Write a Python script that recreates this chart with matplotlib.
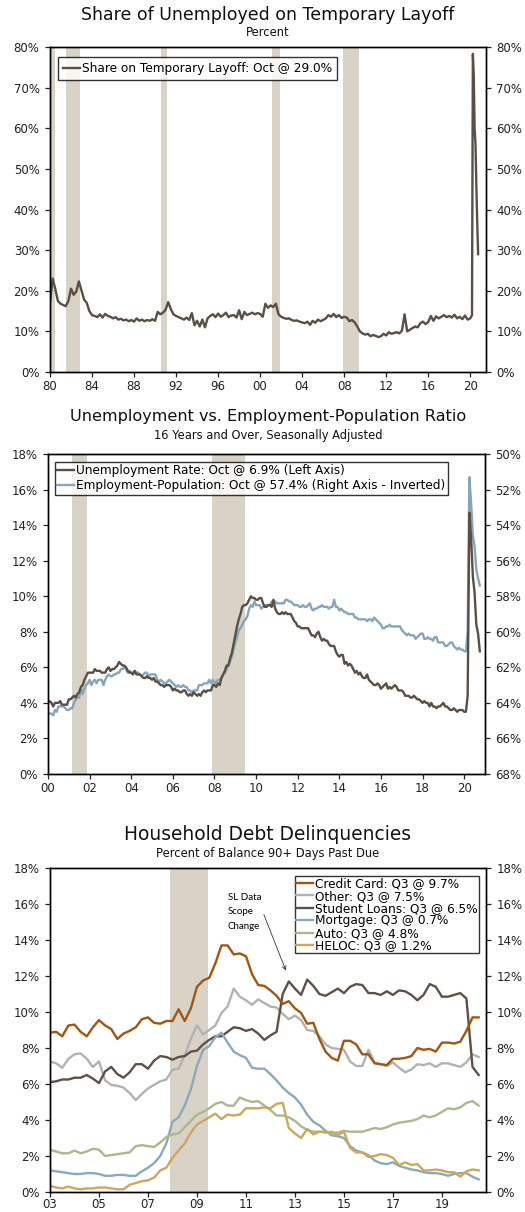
import numpy as np
import matplotlib
matplotlib.use("Agg")
import matplotlib.pyplot as plt
from matplotlib.ticker import FuncFormatter, MultipleLocator

plt.rcParams['font.family'] = ['DejaVu Sans']

# ---------------- data ----------------
# Share of unemployed on temporary layoff, quarterly 1980Q1-2019Q4 (%)
layoff_share = [
    17.0, 23.0, 20.5, 17.5,  16.8, 16.5, 16.2, 17.5,  20.5, 19.0, 19.8, 22.3,
    20.0, 17.8, 17.0, 15.0,  14.0, 13.8, 13.5, 14.2,  13.4, 14.3, 13.8, 13.6,
    13.2, 13.5, 12.9, 13.1,  12.7, 12.9, 12.5, 12.8,  12.4, 13.2, 12.6, 12.9,
    12.5, 12.8, 12.6, 13.0,  12.6, 14.8, 14.2, 14.6,  15.3, 17.2, 15.5, 14.2,
    13.8, 13.5, 13.2, 12.9,  13.4, 12.8, 14.5, 11.5,  12.6, 11.2, 12.9, 11.0,
    13.2, 13.8, 14.2, 13.5,  14.4, 13.6, 14.0, 14.6,  13.5, 13.9, 14.0, 13.4,
    15.2, 13.0, 14.8, 14.0,  14.3, 14.6, 14.2, 14.5,  14.3, 13.6, 16.8, 15.8,
    16.4, 16.0, 16.8, 14.2,  13.6, 13.3, 13.1, 13.2,  12.8, 12.6, 12.7, 12.4,
    12.2, 12.0, 12.4, 11.6,  12.6, 12.1, 12.9, 12.5,  12.8, 13.2, 14.0, 13.6,
    14.3, 13.5, 14.0, 13.3,  13.6, 13.4, 12.5, 12.8,  12.2, 11.2, 10.0, 9.5,
    9.2, 9.4, 8.8, 9.1,      8.9, 8.6, 8.8, 9.4,      9.0, 9.8, 9.4, 9.6,
    9.8, 9.5, 10.2, 14.2,    10.0, 10.4, 10.8, 11.2,  11.0, 12.0, 12.4, 11.8,
    12.3, 13.8, 12.6, 13.7,  13.2, 13.6, 14.0, 13.5,  13.8, 13.4, 14.1, 13.2,
    13.6, 13.0, 13.9, 12.9,
]
# monthly Jan-Oct 2020
layoff_2020 = [13.2, 13.6, 14.0, 78.3, 73.0, 59.8, 56.2, 45.7, 36.7, 29.0]

# Unemployment rate, monthly Jan 2000 - Oct 2020 (%)
unemployment_rate = [
    4.0, 4.1, 4.0, 3.8, 4.0, 4.0, 4.0, 4.1, 3.9, 3.9, 3.9, 3.9,
    4.2, 4.2, 4.3, 4.4, 4.3, 4.5, 4.6, 4.9, 5.0, 5.3, 5.5, 5.7,
    5.7, 5.7, 5.7, 5.9, 5.8, 5.8, 5.8, 5.7, 5.7, 5.7, 5.9, 6.0,
    5.8, 5.9, 5.9, 6.0, 6.1, 6.3, 6.2, 6.1, 6.1, 6.0, 5.8, 5.7,
    5.7, 5.6, 5.8, 5.6, 5.6, 5.6, 5.5, 5.4, 5.4, 5.5, 5.4, 5.4,
    5.3, 5.4, 5.2, 5.2, 5.1, 5.0, 5.0, 4.9, 5.0, 5.0, 5.0, 4.9,
    4.7, 4.8, 4.7, 4.7, 4.6, 4.6, 4.7, 4.7, 4.5, 4.4, 4.5, 4.4,
    4.6, 4.5, 4.4, 4.5, 4.4, 4.6, 4.7, 4.6, 4.7, 4.7, 4.7, 5.0,
    5.0, 4.9, 5.1, 5.0, 5.4, 5.6, 5.8, 6.1, 6.1, 6.5, 6.8, 7.3,
    7.8, 8.3, 8.7, 9.0, 9.4, 9.5, 9.5, 9.6, 9.8, 10.0, 9.9, 9.9,
    9.8, 9.8, 9.9, 9.9, 9.6, 9.4, 9.4, 9.5, 9.5, 9.4, 9.8, 9.3,
    9.1, 9.0, 9.0, 9.1, 9.0, 9.1, 9.0, 9.0, 9.0, 8.8, 8.6, 8.5,
    8.3, 8.3, 8.2, 8.2, 8.2, 8.2, 8.2, 8.0, 7.8, 7.8, 7.7, 7.9,
    8.0, 7.7, 7.5, 7.6, 7.5, 7.5, 7.3, 7.2, 7.2, 7.2, 6.9, 6.7,
    6.6, 6.7, 6.7, 6.2, 6.3, 6.1, 6.2, 6.1, 5.9, 5.7, 5.8, 5.6,
    5.7, 5.5, 5.4, 5.4, 5.6, 5.3, 5.2, 5.1, 5.0, 5.0, 5.1, 5.0,
    4.8, 4.9, 5.0, 5.1, 4.8, 4.9, 4.8, 4.9, 5.0, 4.9, 4.7, 4.7,
    4.7, 4.6, 4.4, 4.4, 4.4, 4.3, 4.3, 4.4, 4.3, 4.2, 4.2, 4.1,
    4.0, 4.1, 4.0, 4.0, 3.8, 4.0, 3.8, 3.8, 3.7, 3.8, 3.8, 3.9,
    4.0, 3.8, 3.8, 3.7, 3.6, 3.6, 3.7, 3.6, 3.5, 3.6, 3.6, 3.6,
    3.5, 3.5, 4.4, 14.7, 13.3, 11.1, 10.2, 8.4, 7.9, 6.9,
]

# Employment-population ratio, monthly Jan 2000 - Oct 2020 (%)
emp_pop_ratio = [
    64.6, 64.6, 64.6, 64.7, 64.4, 64.5, 64.2, 64.2, 64.2, 64.2, 64.3, 64.4,
    64.4, 64.3, 64.3, 64.0, 63.8, 63.7, 63.7, 63.2, 63.5, 63.2, 63.0, 62.9,
    62.7, 63.0, 62.8, 62.7, 62.9, 62.7, 62.7, 62.7, 63.0, 62.7, 62.5, 62.4,
    62.5, 62.5, 62.4, 62.4, 62.3, 62.3, 62.1, 62.1, 62.0, 62.1, 62.3, 62.2,
    62.3, 62.3, 62.2, 62.3, 62.3, 62.4, 62.5, 62.4, 62.3, 62.3, 62.5, 62.4,
    62.4, 62.4, 62.4, 62.7, 62.8, 62.7, 62.8, 62.9, 62.9, 62.8, 62.7, 62.8,
    62.9, 63.0, 63.1, 63.0, 63.1, 63.1, 63.0, 63.1, 63.1, 63.3, 63.3, 63.4,
    63.3, 63.3, 63.3, 63.0, 63.0, 63.0, 62.9, 62.9, 62.9, 62.7, 62.9, 62.7,
    62.9, 62.8, 62.7, 62.7, 62.6, 62.4, 62.3, 62.1, 61.9, 61.7, 61.4, 61.0,
    60.6, 60.3, 59.9, 59.8, 59.6, 59.4, 59.3, 59.1, 58.7, 58.5, 58.6, 58.3,
    58.5, 58.5, 58.5, 58.7, 58.6, 58.5, 58.5, 58.5, 58.5, 58.3, 58.3, 58.3,
    58.4, 58.4, 58.4, 58.4, 58.4, 58.2, 58.2, 58.3, 58.3, 58.4, 58.5, 58.5,
    58.5, 58.6, 58.6, 58.5, 58.6, 58.6, 58.5, 58.4, 58.7, 58.8, 58.7, 58.7,
    58.6, 58.6, 58.5, 58.6, 58.6, 58.6, 58.7, 58.6, 58.6, 58.2, 58.6, 58.6,
    58.8, 58.7, 58.8, 58.9, 58.9, 59.0, 59.0, 59.0, 59.0, 59.2, 59.2, 59.3,
    59.3, 59.3, 59.3, 59.3, 59.4, 59.3, 59.3, 59.4, 59.2, 59.3, 59.4, 59.5,
    59.6, 59.8, 59.8, 59.7, 59.7, 59.6, 59.7, 59.7, 59.7, 59.7, 59.7, 59.7,
    59.9, 60.0, 60.1, 60.2, 60.1, 60.2, 60.2, 60.2, 60.4, 60.3, 60.2, 60.1,
    60.1, 60.4, 60.4, 60.3, 60.4, 60.4, 60.5, 60.3, 60.3, 60.6, 60.6, 60.6,
    60.6, 60.8, 60.8, 60.7, 60.6, 60.6, 60.8, 60.9, 61.0, 60.9, 61.0, 61.0,
    61.1, 61.1, 60.0, 51.3, 52.8, 54.6, 55.2, 56.5, 57.0, 57.4,
]

# Household debt 90+ days delinquent, quarterly 2003Q1 - 2020Q3 (%)
credit_card = [
    8.85, 8.9, 8.65, 9.25, 9.3, 8.9, 8.65, 9.15, 9.55, 9.25, 9.05, 8.5,
    8.8, 8.95, 9.15, 9.6, 9.7, 9.4, 9.35, 9.5, 9.5, 10.15, 9.5, 10.2,
    11.4, 11.75, 11.9, 12.7, 13.7, 13.7, 13.2, 13.25, 13.1, 12.1, 11.5, 11.45,
    11.2, 10.9, 10.45, 10.6, 10.2, 9.95, 9.35, 9.4, 8.5, 7.8, 7.45, 7.3,
    8.4, 8.4, 8.2, 7.65, 7.65, 7.15, 7.1, 7.05, 7.4, 7.4, 7.45, 7.55,
    8.0, 7.9, 7.95, 7.8, 8.3, 8.3, 8.25, 8.35, 8.95, 9.7, 9.7,
]
other = [
    7.25, 7.15, 6.9, 7.4, 7.65, 7.7, 7.4, 6.95, 7.25, 6.2, 5.95, 5.9,
    5.8, 5.5, 5.1, 5.45, 5.75, 5.95, 6.15, 6.25, 6.8, 6.85, 7.6, 8.5,
    9.25, 8.75, 9.0, 9.25, 9.95, 10.3, 11.3, 10.85, 10.65, 10.4, 10.7, 10.5,
    10.3, 10.25, 9.9, 9.6, 9.8, 9.55, 9.0, 8.95, 8.65, 8.2, 8.0, 7.95,
    7.9, 7.25, 7.0, 7.0, 7.9, 7.2, 7.1, 7.0, 7.2, 6.9, 6.65, 6.8,
    7.1, 7.05, 7.15, 6.95, 7.15, 7.15, 7.05, 6.95, 7.2, 7.65, 7.5,
]
student_loans = [
    6.1, 6.15, 6.25, 6.25, 6.35, 6.35, 6.5, 6.3, 6.05, 6.7, 6.95, 6.55,
    6.35, 6.65, 7.1, 7.1, 6.85, 7.3, 7.55, 7.5, 7.35, 7.5, 7.55, 7.8,
    7.85, 8.2, 8.45, 8.65, 8.65, 8.9, 9.15, 9.1, 8.95, 9.05, 8.8, 8.45,
    8.7, 8.9, 11.0, 11.7, 11.3, 10.95, 11.8, 11.45, 11.0, 10.9, 11.1, 11.3,
    11.05, 11.4, 11.55, 11.5, 11.05, 11.05, 10.95, 11.15, 10.95, 11.2, 11.15, 10.95,
    10.65, 10.95, 11.55, 11.4, 10.85, 10.85, 10.95, 11.05, 10.75, 6.95, 6.5,
]
mortgage = [
    1.2, 1.15, 1.1, 1.05, 1.0, 1.0, 1.05, 1.05, 1.0, 0.9, 0.9, 0.95,
    0.95, 0.9, 0.9, 1.15, 1.35, 1.6, 2.0, 2.7, 3.9, 4.15, 4.8, 5.7,
    7.0, 7.9, 8.1, 8.6, 8.85, 8.3, 7.8, 7.6, 7.45, 6.9, 6.85, 6.85,
    6.55, 6.2, 5.8, 5.5, 5.25, 4.85, 4.3, 3.9, 3.7, 3.4, 3.15, 3.1,
    3.0, 2.55, 2.3, 2.2, 2.05, 1.75, 1.6, 1.55, 1.65, 1.45, 1.35, 1.25,
    1.2, 1.1, 1.05, 1.05, 1.0, 0.9, 1.0, 1.05, 1.05, 0.85, 0.7,
]
auto = [
    2.35, 2.25, 2.15, 2.15, 2.3, 2.15, 2.25, 2.4, 2.35, 2.0, 2.05, 2.1,
    2.15, 2.2, 2.55, 2.6, 2.55, 2.5, 2.75, 3.05, 3.2, 3.25, 3.6, 3.95,
    4.3, 4.45, 4.65, 4.9, 5.0, 4.8, 4.8, 5.25, 5.1, 5.0, 5.05, 4.8,
    4.55, 4.25, 4.25, 4.15, 3.95, 3.65, 3.45, 3.35, 3.35, 3.35, 3.3, 3.3,
    3.4, 3.35, 3.35, 3.35, 3.45, 3.55, 3.5, 3.6, 3.75, 3.85, 3.9, 3.95,
    4.05, 4.25, 4.15, 4.25, 4.45, 4.65, 4.6, 4.7, 4.95, 5.05, 4.8,
]
heloc = [
    0.35, 0.25, 0.2, 0.3, 0.2, 0.15, 0.2, 0.2, 0.25, 0.25, 0.2, 0.15,
    0.15, 0.4, 0.5, 0.6, 0.65, 0.8, 1.2, 1.35, 1.9, 2.3, 2.7, 3.3,
    3.75, 3.95, 4.15, 4.35, 4.05, 4.3, 4.25, 4.3, 4.65, 4.65, 4.65, 4.7,
    4.65, 4.9, 4.95, 3.55, 3.25, 3.0, 3.5, 3.2, 3.35, 3.3, 3.35, 3.15,
    3.35, 2.45, 2.2, 2.2, 1.95, 2.0, 2.1, 2.05, 1.9, 1.5, 1.65, 1.5,
    1.55, 1.2, 1.2, 1.25, 1.2, 1.1, 1.1, 0.85, 1.15, 1.25, 1.2,
]

# recessions (start, end) in decimal years
recessions = [(1980.0, 1980.5), (1981.55, 1982.85), (1990.55, 1991.15),
              (2001.17, 2001.87), (2007.9, 2009.45)]

# ---------------- styling ----------------
RECESSION = '#d8d3c6'
BROWN = '#5b4e44'
BLUE = '#87a5ba'
COLORS = {
    'Credit Card': '#a3560f',
    'Other': '#b2b2b2',
    'Student Loans': '#5f5148',
    'Mortgage': '#89a9bf',
    'Auto': '#a9b98e',
    'HELOC': '#cfa75a',
}
TICK_FS = 8.5
LEG_FS = 8.7
SUB_FS = 8.3
LW = 1.7


def pct(v, p):
    return f"{v:.0f}%"


def yr(v, p):
    return f"{int(round(v)) % 100:02d}"


def style_axes(ax, ax2, xlo, xhi, xstep):
    for a in (ax, ax2):
        a.tick_params(direction='out', length=3.5, width=0.9, labelsize=TICK_FS,
                      pad=4, colors='#222222')
        for s in a.spines.values():
            s.set_linewidth(1.0)
            s.set_color('black')
    ax.tick_params(axis='x', pad=2.5)
    ax.set_xlim(xlo, xhi)
    ax.xaxis.set_major_locator(MultipleLocator(xstep))
    ax.xaxis.set_major_formatter(FuncFormatter(yr))
    ax.yaxis.set_major_formatter(FuncFormatter(pct))
    ax2.yaxis.set_major_formatter(FuncFormatter(pct))


def shade(ax, lo, hi):
    for a, b in recessions:
        if b > lo and a < hi:
            ax.axvspan(max(a, lo), b, color=RECESSION, lw=0, zorder=0)


def boxed_legend(leg):
    leg.get_frame().set_linewidth(1.0)
    leg.set_zorder(10)
    return leg


def titles(y_title, y_sub, title, sub, size):
    fig.text(268 / W, 1 - y_title / H, title, ha='center', va='center',
             fontsize=size, color='#111111')
    fig.text(268 / W, 1 - y_sub / H, sub, ha='center', va='center',
             fontsize=SUB_FS, color='#111111')


fig = plt.figure(figsize=(5.25, 12.12), dpi=100)
W, H = 525, 1212


def add_axes(l, r, t, b):
    return fig.add_axes([l / W, 1 - b / H, (r - l) / W, (b - t) / H])


# ---------------- chart 1 ----------------
ax1 = add_axes(50, 486, 47, 372)
x_q = 1980 + np.arange(len(layoff_share)) / 4
x_m20 = 2020 + np.arange(len(layoff_2020)) / 12
x1 = np.concatenate([x_q, x_m20])
y1 = np.concatenate([layoff_share, layoff_2020])
shade(ax1, 1980, 2021.5)
ax1.plot(x1, y1, color=BROWN, lw=LW,
         label='Share on Temporary Layoff: Oct @ 29.0%')
ax1.set_ylim(0, 80)
ax1.yaxis.set_major_locator(MultipleLocator(10))
ax1b = ax1.twinx()
ax1b.set_ylim(0, 80)
ax1b.yaxis.set_major_locator(MultipleLocator(10))
style_axes(ax1, ax1b, 1980, 2021.5, 4)
boxed_legend(ax1.legend(loc='upper left', bbox_to_anchor=(8 / 436, 1 - 10 / 325),
                        borderaxespad=0, fontsize=LEG_FS, frameon=True, fancybox=False,
                        edgecolor='black', handlelength=1.4, handletextpad=0.15,
                        borderpad=0.4))
titles(15, 32, 'Share of Unemployed on Temporary Layoff', 'Percent', 12.5)

# ---------------- chart 2 ----------------
ax2 = add_axes(48, 485, 454, 774)
x2 = 2000 + np.arange(len(unemployment_rate)) / 12
ax2b = ax2.twinx()
shade(ax2b, 2000, 2021)
ax2b.set_ylim(68, 50)
ax2b.yaxis.set_major_locator(MultipleLocator(2))
l_emp, = ax2b.plot(x2, emp_pop_ratio, color=BLUE, lw=LW, zorder=2)
# unemployment axis sits on top of the inverted axis
ax2.set_zorder(ax2b.get_zorder() + 1)
ax2.patch.set_visible(False)
l_ur, = ax2.plot(x2, unemployment_rate, color=BROWN, lw=LW)
ax2.set_ylim(0, 18)
ax2.yaxis.set_major_locator(MultipleLocator(2))
style_axes(ax2, ax2b, 2000, 2021, 2)
boxed_legend(ax2.legend([l_ur, l_emp],
                        ['Unemployment Rate: Oct @ 6.9% (Left Axis)',
                         'Employment-Population: Oct @ 57.4% (Right Axis - Inverted)'],
                        loc='upper left', bbox_to_anchor=(7 / 437, 1 - 8 / 320),
                        borderaxespad=0, fontsize=LEG_FS, frameon=True, fancybox=False,
                        edgecolor='black', handlelength=1.4, handletextpad=0.15,
                        borderpad=0.2, labelspacing=0.15))
titles(417, 435, 'Unemployment vs. Employment-Population Ratio',
       '16 Years and Over, Seasonally Adjusted', 11.6)

# ---------------- chart 3 ----------------
ax3 = add_axes(50, 486, 868, 1192)
x3 = 2003 + np.arange(len(credit_card)) / 4
shade(ax3, 2003, 2020.8)
series = [
    ('Credit Card', credit_card, 'Credit Card: Q3 @ 9.7%'),
    ('Other', other, 'Other: Q3 @ 7.5%'),
    ('Student Loans', student_loans, 'Student Loans: Q3 @ 6.5%'),
    ('Mortgage', mortgage, 'Mortgage: Q3 @ 0.7%'),
    ('Auto', auto, 'Auto: Q3 @ 4.8%'),
    ('HELOC', heloc, 'HELOC: Q3 @ 1.2%'),
]
handles = []
for key, vals, lab in series:
    h, = ax3.plot(x3, vals, color=COLORS[key], lw=LW, label=lab)
    handles.append(h)
handles[0].set_zorder(5)
ax3.set_ylim(0, 18)
ax3.yaxis.set_major_locator(MultipleLocator(2))
ax3b = ax3.twinx()
ax3b.set_ylim(0, 18)
ax3b.yaxis.set_major_locator(MultipleLocator(2))
style_axes(ax3, ax3b, 2003, 2020.8, 2)
ax3.set_xticks(np.arange(2003, 2021, 2))
ax3.tick_params(axis='x', pad=1.0)
boxed_legend(ax3.legend(handles=handles, loc='upper right',
                        bbox_to_anchor=(1 - 7 / 436, 1 - 8 / 324), borderaxespad=0,
                        fontsize=LEG_FS, frameon=True, fancybox=False, edgecolor='black',
                        handlelength=1.4, handletextpad=0.15, borderpad=0.1,
                        labelspacing=-0.05))
ax3.annotate('SL Data\nScope\nChange', xy=(2012.63, 12.3), xytext=(2010.25, 16.6),
             fontsize=7, family='Lato', va='top', ha='left', linespacing=1.75,
             arrowprops=dict(arrowstyle='->', color='#333333', lw=0.6,
                             shrinkA=0, shrinkB=0, relpos=(1.0, 0.62)))
titles(835, 853, 'Household Debt Delinquencies', 'Percent of Balance 90+ Days Past Due', 13.4)

fig.savefig('out.png', dpi=100)
